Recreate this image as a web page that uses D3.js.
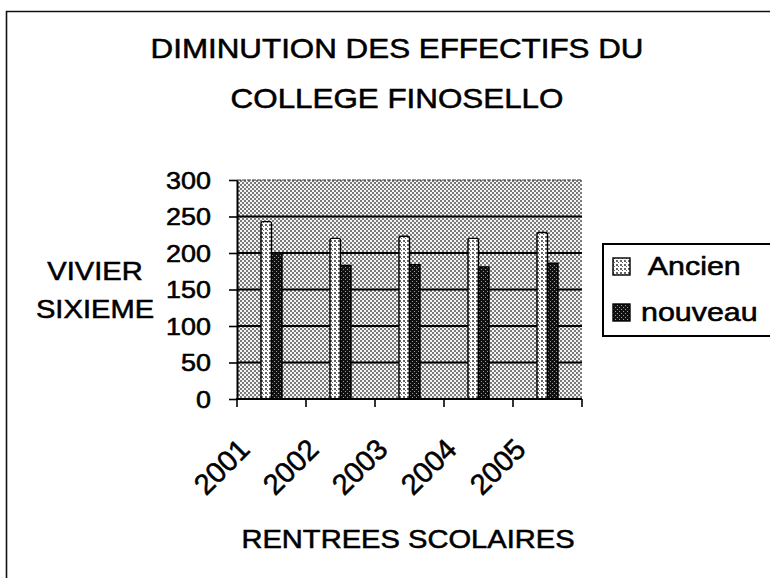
<!DOCTYPE html>
<html lang="fr">
<head>
<meta charset="UTF-8">
<title>Diminution des effectifs</title>
<script src="https://d3js.org/d3.v7.min.js"></script>
<style>
    body { margin: 0; background: #fff; }
    text { font-family: "Liberation Sans", Arial, sans-serif; fill: #000; stroke: #000; stroke-width: 0.55px; }
</style>
</head>
<body>
<svg id="chart" width="770" height="578"></svg>
<script>
    // data
    let years = ["2001", "2002", "2003", "2004", "2005"];
    let series = [" Ancien", "nouveau"];
    let ancien = [243, 220, 223, 220, 228];
    let nouveau = [200, 183, 184, 181, 186];
    let yTicks = [0, 50, 100, 150, 200, 250, 300];
    let titleLines = ["DIMINUTION DES EFFECTIFS DU", "COLLEGE FINOSELLO"];
    let yTitle = ["VIVIER", "SIXIEME"];
    let xTitle = "RENTREES SCOLAIRES";

    let svg = d3.select('#chart');

    // stipple patterns to mimic the scanned greys
    let defs = svg.append('defs');
    function pattern(id, bg, dots, col) {
        let p = defs.append('pattern').attr('id', id)
            .attr('patternUnits', 'userSpaceOnUse').attr('width', 4).attr('height', 4);
        p.append('rect').attr('width', 4).attr('height', 4).attr('fill', bg);
        dots.forEach(function (d) {
            p.append('rect').attr('x', d[0]).attr('y', d[1]).attr('width', d[2]).attr('height', d[2]).attr('fill', col);
        });
    }
    pattern('bgPat', '#f4f4f4', [[0, 0, 2], [2, 2, 2]], '#7a7a7a');
    pattern('ancPat', '#fff', [[0, 0, 2], [2, 2, 1]], '#666');
    pattern('nouPat', '#111', [[1, 1, 1], [3, 3, 1]], '#999');
    let fills = {" Ancien": "url(#ancPat)", "nouveau": "url(#nouPat)"};

    function label(g, str, x, y, size, sx, anchor) {
        return g.append('text')
            .attr('transform', `translate(${x},${y}) scale(${sx},1)`)
            .attr('text-anchor', anchor)
            .style('font-size', size + 'px')
            .style('white-space', 'pre')
            .text(str);
    }

    // frame (left and top edges visible in the scan)
    svg.append('path').attr('d', 'M6.5,578 V11.5 H770')
        .attr('fill', 'none').attr('stroke', '#111').attr('stroke-width', 1.6);

    // title
    titleLines.forEach(function (t, i) {
        label(svg, t, 397, 58 + i * 50, 28, 1.12, 'middle');
    });

    // scales
    let x = d3.scaleBand().domain(years).range([237, 582]);
    let x1 = d3.scaleBand().domain(series).range([0, x.bandwidth()]).paddingOuter(2.28);
    let y = d3.scaleLinear().domain([0, 300]).range([399, 180]);

    // plot background
    svg.append('rect')
        .attr('x', x.range()[0]).attr('y', y(300))
        .attr('width', x.range()[1] - x.range()[0]).attr('height', y(0) - y(300))
        .attr('fill', 'url(#bgPat)');

    // grid lines
    svg.append('g').selectAll('line')
        .data(yTicks.filter(function (d) { return d > 0; }))
        .enter().append('line')
        .attr('x1', x.range()[0]).attr('x2', x.range()[1])
        .attr('y1', function (d) { return y(d); }).attr('y2', function (d) { return y(d); })
        .attr('stroke', function (d) { return d === 300 ? '#333' : '#000'; })
        .attr('stroke-width', function (d) { return d === 300 ? 1.2 : 2; })
        .attr('stroke-dasharray', function (d) { return d === 300 ? '4,1' : null; });

    // bars
    let rows = years.map(function (yr, i) {
        return {year: yr, values: [{s: series[0], v: ancien[i]}, {s: series[1], v: nouveau[i]}]};
    });
    svg.append('g').selectAll('g')
        .data(rows).enter().append('g')
        .attr('transform', function (d) { return `translate(${x(d.year)},0)`; })
        .selectAll('rect')
        .data(function (d) { return d.values; })
        .enter().append('rect')
        .attr('x', function (d) { return x1(d.s); })
        .attr('width', x1.bandwidth())
        .attr('y', function (d) { return y(d.v); })
        .attr('height', function (d) { return y(0) - y(d.v); })
        .attr('rx', function (d) { return d.s === series[0] ? 2 : 0; })
        .attr('fill', function (d) { return fills[d.s]; })
        .attr('stroke', '#000').attr('stroke-width', 1.4);

    // y axis
    let yAxis = svg.append('g').attr('transform', `translate(${x.range()[0]},0)`)
        .call(d3.axisLeft(y).tickValues(yTicks).tickSize(8).tickSizeOuter(0));
    yAxis.select('.domain').attr('stroke-width', 2).attr('stroke', '#000');
    yAxis.selectAll('.tick line').attr('stroke-width', 1.6);
    yAxis.selectAll('.tick text').remove();
    yAxis.selectAll('.tick').each(function (d) {
        label(d3.select(this), d, -26, 8, 23, 1.17, 'end');
    });

    // x axis: ticks on category boundaries
    let bounds = years.map(function (d) { return x(d); }).concat([x.range()[1]]);
    let xAxis = svg.append('g');
    xAxis.append('line').attr('x1', x.range()[0] - 1).attr('x2', x.range()[1])
        .attr('y1', y(0)).attr('y2', y(0)).attr('stroke', '#000').attr('stroke-width', 2);
    xAxis.selectAll('.xt').data(bounds).enter().append('line').attr('class', 'xt')
        .attr('x1', function (d) { return d; }).attr('x2', function (d) { return d; })
        .attr('y1', y(0)).attr('y2', y(0) + 8)
        .attr('stroke', '#000').attr('stroke-width', 1.6);
    xAxis.selectAll('text').data(years).enter().append('text')
        .attr('transform', function (d) {
            return `translate(${x(d) + x.bandwidth() / 2 - 20},451) rotate(-45)`;
        })
        .attr('text-anchor', 'end')
        .style('font-size', '29px')
        .text(function (d) { return d; });

    // axis titles
    yTitle.forEach(function (t, i) {
        label(svg, t, 95, 280 + i * 38, 26, 1.12, 'middle');
    });
    label(svg, xTitle, 408, 548, 26, 1.12, 'middle');

    // legend
    let legend = svg.append('g');
    legend.append('rect').attr('x', 603).attr('y', 244).attr('width', 180).attr('height', 92)
        .attr('fill', '#fff').attr('stroke', '#000').attr('stroke-width', 2);
    series.forEach(function (s, i) {
        legend.append('rect').attr('x', 613).attr('y', 258 + i * 46).attr('width', 17).attr('height', 17)
            .attr('fill', fills[s]).attr('stroke', '#000').attr('stroke-width', 1.4);
        label(legend, s, 641, 275 + i * 46, 26, 1.17, 'start');
    });
</script>
</body>
</html>
